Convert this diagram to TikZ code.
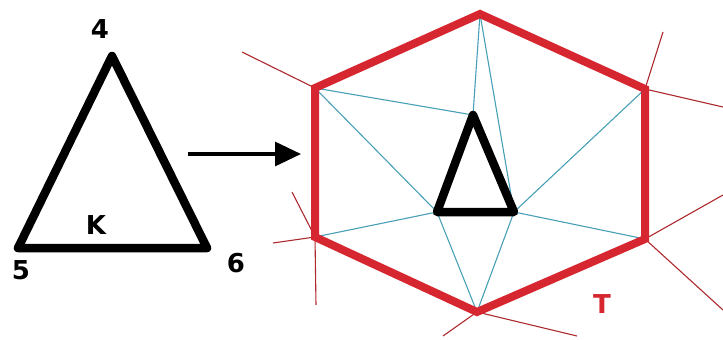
\documentclass[tikz,border=0pt]{standalone}
\usepackage{fontspec}
\setmainfont{DejaVu Sans}
\usetikzlibrary{arrows.meta}
\definecolor{hexred}{RGB}{214,39,48}
\definecolor{cutred}{RGB}{172,42,46}
\definecolor{meshcyan}{RGB}{72,160,182}

\begin{document}
\begin{tikzpicture}[
  x=1pt, y=-1pt,
  elem/.style={black, line width=8.5pt, line join=round, line cap=round},
  patch/.style={hexred, line width=8pt, line join=miter},
  mesh/.style={meshcyan, line width=1.1pt},
  cut/.style={cutred, line width=1.1pt},
  vlabel/.style={font=\fontsize{26}{28}\selectfont\bfseries, inner sep=0pt},
]
  \useasboundingbox (0,0) rectangle (723,340);

  % ── Element K ──
  \coordinate (k4) at (112,56);
  \coordinate (k5) at (18,248);
  \coordinate (k6) at (207,248);
  \draw[elem] (k4) -- (k5) -- (k6) -- cycle;
  \node[vlabel] (l4) at (100,29) {4};
  \node[vlabel] (l5) at (21,270) {5};
  \node[vlabel] (l6) at (236,263) {6};
  \node[vlabel] (lK) at (96,225) {K};

  % ── Arrow ──
  \coordinate (ar0) at (188,154);
  \coordinate (ar1) at (301,154);
  \draw[line width=3.2pt, -{Triangle[length=26pt, width=24pt]}] (ar0) -- (ar1);

  % ── Patch T (hexagon) ──
  \coordinate (t1) at (480,14);
  \coordinate (t2) at (645,89);
  \coordinate (t3) at (645,239);
  \coordinate (t4) at (477,312);
  \coordinate (t5) at (315,237);
  \coordinate (t6) at (315,88);

  % ── Inner triangle ──
  \coordinate (da) at (473,115);
  \coordinate (db) at (437,212);
  \coordinate (dc) at (514,212);

  % ── Free ends of cut lines ──
  \coordinate (o1) at (242,52);
  \coordinate (o2) at (273,243);
  \coordinate (o3) at (292,192);
  \coordinate (o4) at (316,305);
  \coordinate (o5) at (443,336);
  \coordinate (o6) at (577,336);
  \coordinate (o7) at (663,32);
  \coordinate (o8) at (723,107);
  \coordinate (o9) at (723,195);
  \coordinate (o10) at (723,310);

  % ── Cut lines ──
  \foreach \a/\b in {t6/o1,t5/o2,t5/o3,t5/o4,t4/o5,t4/o6,t2/o7,t2/o8,t3/o9,t3/o10} {
    \draw[cut] (\a) -- (\b);
  }

  % ── Mesh edges ──
  \foreach \a/\b in {t1/da,t1/dc,t6/da,t6/db,t5/db,t4/db,t4/dc,t3/dc,t2/dc} {
    \draw[mesh] (\a) -- (\b);
  }

  \draw[patch] (t1) -- (t2) -- (t3) -- (t4) -- (t5) -- (t6) -- cycle;
  \draw[elem] (da) -- (db) -- (dc) -- cycle;
  \node[vlabel, hexred] (lT) at (602,304) {T};
\end{tikzpicture}
\end{document}
